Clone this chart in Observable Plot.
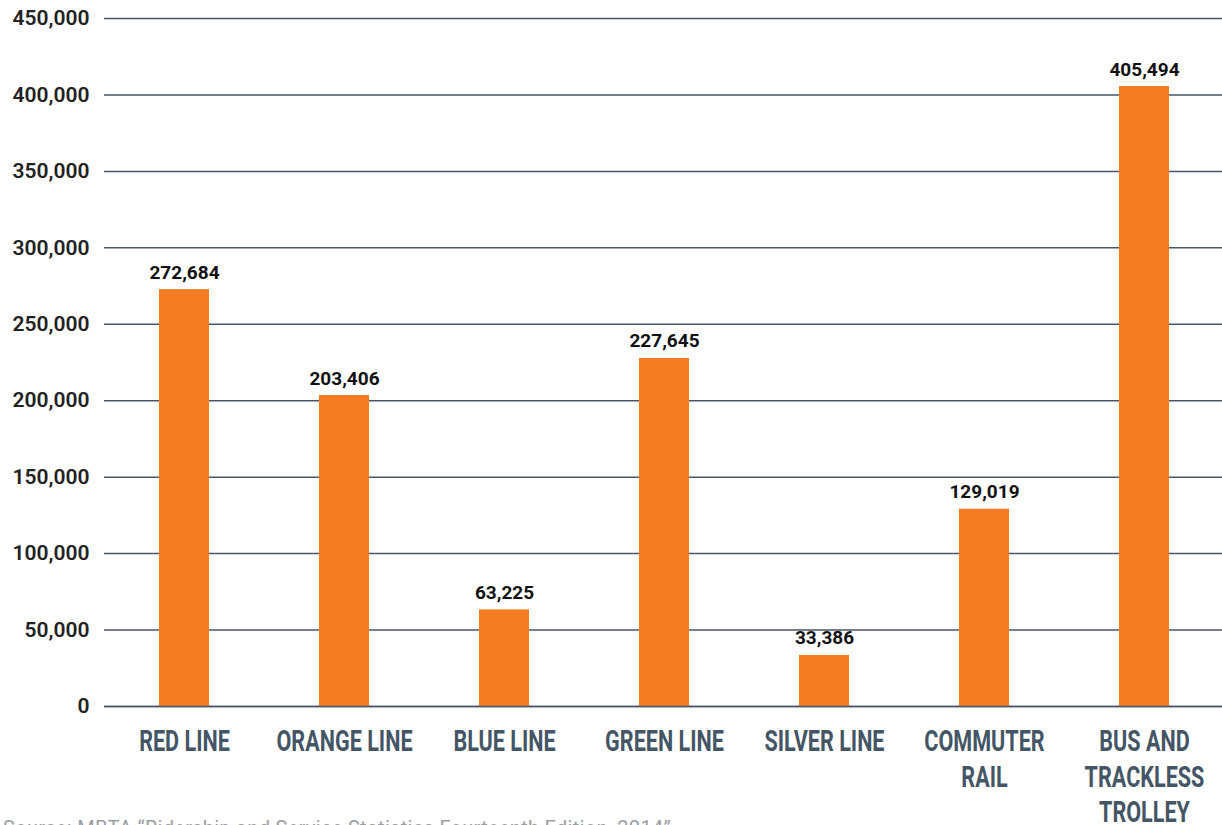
<!DOCTYPE html>
<html>
<head>
<meta charset="utf-8">
<script src="https://cdn.jsdelivr.net/npm/d3@7"></script>
<script src="https://cdn.jsdelivr.net/npm/@observablehq/plot@0.6"></script>
<style>
  html, body { margin: 0; padding: 0; background: #fff; overflow: hidden; }
  body { position: relative; width: 1222px; height: 825px; }
  #chart svg { overflow: visible; display: block; }
  .caption { position: absolute; left: 3px; top: 818px; font-family: Roboto, "Open Sans", sans-serif; font-size: 20px; letter-spacing: 0.3px; color: #9a9ea5; margin: 0; white-space: nowrap; line-height: 20px; }
</style>
</head>
<body>
<div id="chart"></div>
<div class="caption">Source: MBTA “Ridership and Service Statistics Fourteenth Edition, 2014”</div>
<script>
const categories = ["RED LINE", "ORANGE LINE", "BLUE LINE", "GREEN LINE", "SILVER LINE", "COMMUTER\nRAIL", "BUS AND\nTRACKLESS\nTROLLEY"];
const ridership = [272684, 203406, 63225, 227645, 33386, 129019, 405494];
const yTicks = [0, 50000, 100000, 150000, 200000, 250000, 300000, 350000, 400000, 450000];

const data = categories.map((c, i) => ({category: c, value: ridership[i]}));
const fmt = d3.format(",");

const plot = Plot.plot({
  width: 1222,
  height: 812,
  marginTop: 18,
  marginBottom: 106,
  marginLeft: 104,
  marginRight: 0,
  style: {background: "#fff"},
  x: {domain: categories, range: [104, 1224], paddingInner: 0.69, paddingOuter: 0.345, axis: null},
  y: {domain: [0, 450000], axis: null},
  marks: [
    Plot.gridY(yTicks, {stroke: "#4b5566", strokeOpacity: 1, strokeWidth: 1.5}),
    Plot.barY(data, {x: "category", y: "value", fill: "#f47d23"}),
    Plot.ruleY([0], {stroke: "#4b5566", strokeWidth: 1.5}),
    Plot.axisY(yTicks, {
      tickSize: 0, tickPadding: 15, tickFormat: fmt,
      fontSize: 21, fontWeight: 600, fill: "#222", fontFamily: "Roboto, sans-serif", label: null
    }),
    Plot.text(data, {
      x: "category", y: "value", text: d => fmt(d.value),
      dy: -11, lineAnchor: "bottom", fontSize: 19, fontWeight: 700,
      fill: "#111", fontFamily: "Roboto, sans-serif"
    }),
    Plot.text(data, {
      x: "category", y: () => 0, text: "category",
      dy: 20, lineAnchor: "top", lineHeight: 1.17, fontSize: 30, fontWeight: 700,
      fill: "#445566", fontFamily: "Roboto, sans-serif", className: "xlabels"
    })
  ]
});

document.getElementById("chart").appendChild(plot);

// condense the category labels horizontally (narrow display typeface look)
d3.select(plot).selectAll(".xlabels text").each(function() {
  const t = this.getAttribute("transform") || "";
  this.setAttribute("transform", t + " scale(0.72,1)");
});
</script>
</body>
</html>
